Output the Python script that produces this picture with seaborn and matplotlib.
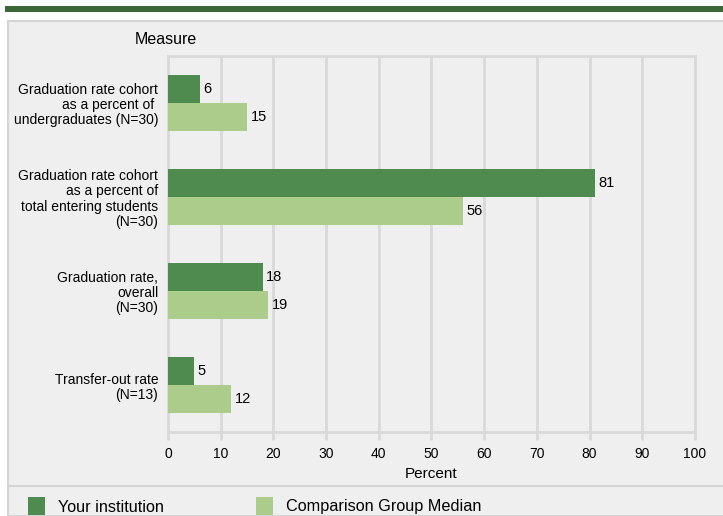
import pandas as pd
import matplotlib.pyplot as plt
import seaborn as sns
from matplotlib.patches import Rectangle
from matplotlib.lines import Line2D

measures = [
    "Graduation rate cohort\nas a percent of \nundergraduates (N=30)",
    "Graduation rate cohort\nas a percent of\ntotal entering students\n(N=30)",
    "Graduation rate,\noverall\n(N=30)",
    "Transfer-out rate\n(N=13)",
]
your_institution = [6, 81, 18, 5]
comparison_median = [15, 56, 19, 12]
groups = ["Your institution", "Comparison Group Median"]
x_ticks = [0, 10, 20, 30, 40, 50, 60, 70, 80, 90, 100]

dark = "#4f8a4f"
light = "#abcc8a"

df = pd.DataFrame({
    "measure": measures * 2,
    "group": [groups[0]] * 4 + [groups[1]] * 4,
    "percent": your_institution + comparison_median,
})

plt.rcParams['font.family'] = ['Liberation Sans', 'DejaVu Sans']
W, H = 723, 516
fig = plt.figure(figsize=(W / 100, H / 100), dpi=100)
fig.patch.set_facecolor("white")

# background panel, top stripe, separator
fig.patches.append(Rectangle((8 / W, 0), 1, 1 - 21 / H, transform=fig.transFigure,
                             facecolor="#efefef", edgecolor="#d4d4d4", lw=1.5, zorder=-2))
fig.patches.append(Rectangle((5 / W, 1 - 12 / H), 1, 6 / H, transform=fig.transFigure,
                             facecolor="#3d6638", edgecolor="none", zorder=-2))
fig.lines.append(Line2D([8 / W, 1], [1 - 486 / H, 1 - 486 / H], transform=fig.transFigure,
                        color="#d4d4d4", lw=1.5, zorder=-1))

ax = fig.add_axes([168 / W, 1 - 432 / H, (695 - 168) / W, (432 - 56) / H])
ax.set_zorder(2)
ax.set_facecolor("#efefef")
sns.barplot(data=df, y="measure", x="percent", hue="group", orient="h",
            palette=[dark, light], width=0.6, gap=0, legend=False, ax=ax,
            saturation=1, zorder=3)

for cont in ax.containers:
    ax.bar_label(cont, labels=[f"{v:g}" for v in cont.datavalues], padding=2.5, fontsize=10.5)

ax.set_xlim(0, 100)
ax.set_xticks(x_ticks)
ax.grid(axis="x", color="#d9d9d9", lw=2, zorder=0)
ax.set_axisbelow(True)
for s in ax.spines.values():
    s.set_color("#d9d9d9")
    s.set_linewidth(2)
ax.tick_params(axis="x", length=6, width=2, color="#d9d9d9", labelsize=10, pad=5)
ax.tick_params(axis="y", length=0, labelsize=10, pad=7)
for lab in ax.get_yticklabels():
    lab.set_linespacing(1.12)
ax.set_ylabel("")
ax.set_xlabel("Percent", fontsize=11, labelpad=4)

fig.text(135 / W, 1 - 40 / H, "Measure", fontsize=11.5, ha="left", va="center")

# legend
for x0, color, label in [(28, dark, groups[0]), (256, light, groups[1])]:
    fig.patches.append(Rectangle((x0 / W, 1 - 515 / H), 17 / W, 18 / H,
                                 transform=fig.transFigure, facecolor=color, edgecolor="none"))
    fig.text((x0 + 30) / W, 1 - 507 / H, label, fontsize=11.7, ha="left", va="center")

fig.savefig("out.png", dpi=100)
